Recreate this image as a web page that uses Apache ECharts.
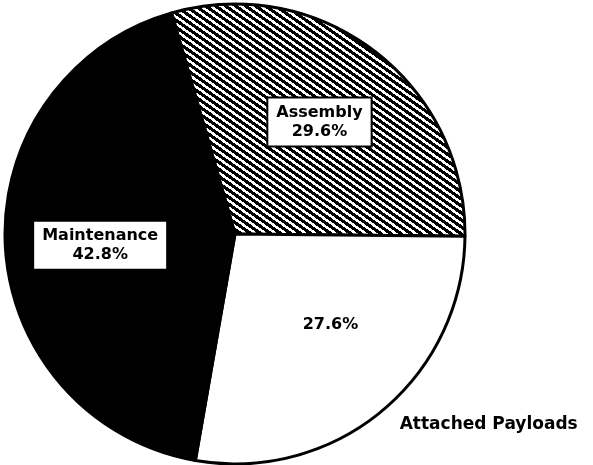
<!DOCTYPE html>
<html><head><meta charset="utf-8">
<script src="https://cdn.jsdelivr.net/npm/echarts@6/dist/echarts.min.js"></script>
<style>html,body{margin:0;padding:0;background:#fff}#c{width:593px;height:465px}</style>
</head><body><div id="c"></div>
<script>
const categories = ['Assembly', 'Attached Payloads', 'Maintenance'];
const values = [29.6, 27.6, 42.8];

// hatch pattern tile
const TW = 10, TH = 7;
const tile = document.createElement('canvas');
tile.width = TW; tile.height = TH;
const tctx = tile.getContext('2d');
const img = tctx.createImageData(TW, TH);
for (let y = 0; y < TH; y++) {
  for (let x = 0; x < TW; x++) {
    let v = ((y - x * TH / TW) % TH + TH) % TH;
    const black = v < 3.9;
    const i = (y * TW + x) * 4;
    const c = black ? 0 : 255;
    img.data[i] = c; img.data[i + 1] = c; img.data[i + 2] = c; img.data[i + 3] = 255;
  }
}
tctx.putImageData(img, 0, 0);

const fills = [{ image: tile, repeat: 'repeat' }, '#ffffff', '#000000'];
const font = 'DejaVu Sans';
const boxLabel = {
  show: true, position: 'inside', fontFamily: font, fontWeight: 'bold', fontSize: 16,
  color: '#000', lineHeight: 19, backgroundColor: '#fff', borderColor: '#000', borderWidth: 2,
  padding: [5, 8, 4, 8], align: 'center', formatter: p => p.name + '\n' + p.value.toFixed(1) + '%'
};
const labelOffsets = [[13, -18], [20, 0], [-17, 5]];

const mainData = categories.map((n, i) => {
  const d = { name: n, value: values[i], itemStyle: { color: fills[i] } };
  if (i === 1) {
    d.label = { show: true, position: 'inside', fontFamily: font, fontWeight: 'bold', fontSize: 16,
      color: '#000', offset: labelOffsets[i], formatter: p => p.value.toFixed(1) + '%' };
  } else {
    d.label = Object.assign({}, boxLabel, { offset: labelOffsets[i] });
  }
  return d;
});

const nameData = categories.map((n, i) => ({
  name: n, value: values[i],
  label: i === 1 ? { show: true, position: 'outside', fontFamily: font, fontWeight: 'bold', fontSize: 17,
    color: '#000', offset: [-27, 2], formatter: p => p.name } : { show: false },
  labelLine: { show: false }
}));

const chart = echarts.init(document.getElementById('c'), null, { renderer: 'canvas' });
chart.setOption({
  animation: false,
  backgroundColor: '#fff',
  series: [
    {
      type: 'pie', center: [235, 234], radius: [0, 230], startAngle: 106, clockwise: true,
      avoidLabelOverlap: false, silent: true,
      itemStyle: { borderColor: '#000', borderWidth: 3 },
      labelLine: { show: false },
      data: mainData
    },
    {
      type: 'pie', center: [235, 234], radius: [0, 230], startAngle: 106, clockwise: true,
      avoidLabelOverlap: false, silent: true, z: 1,
      itemStyle: { color: 'rgba(0,0,0,0)', borderWidth: 0 },
      labelLine: { show: false },
      data: nameData
    }
  ]
});
</script></body></html>
